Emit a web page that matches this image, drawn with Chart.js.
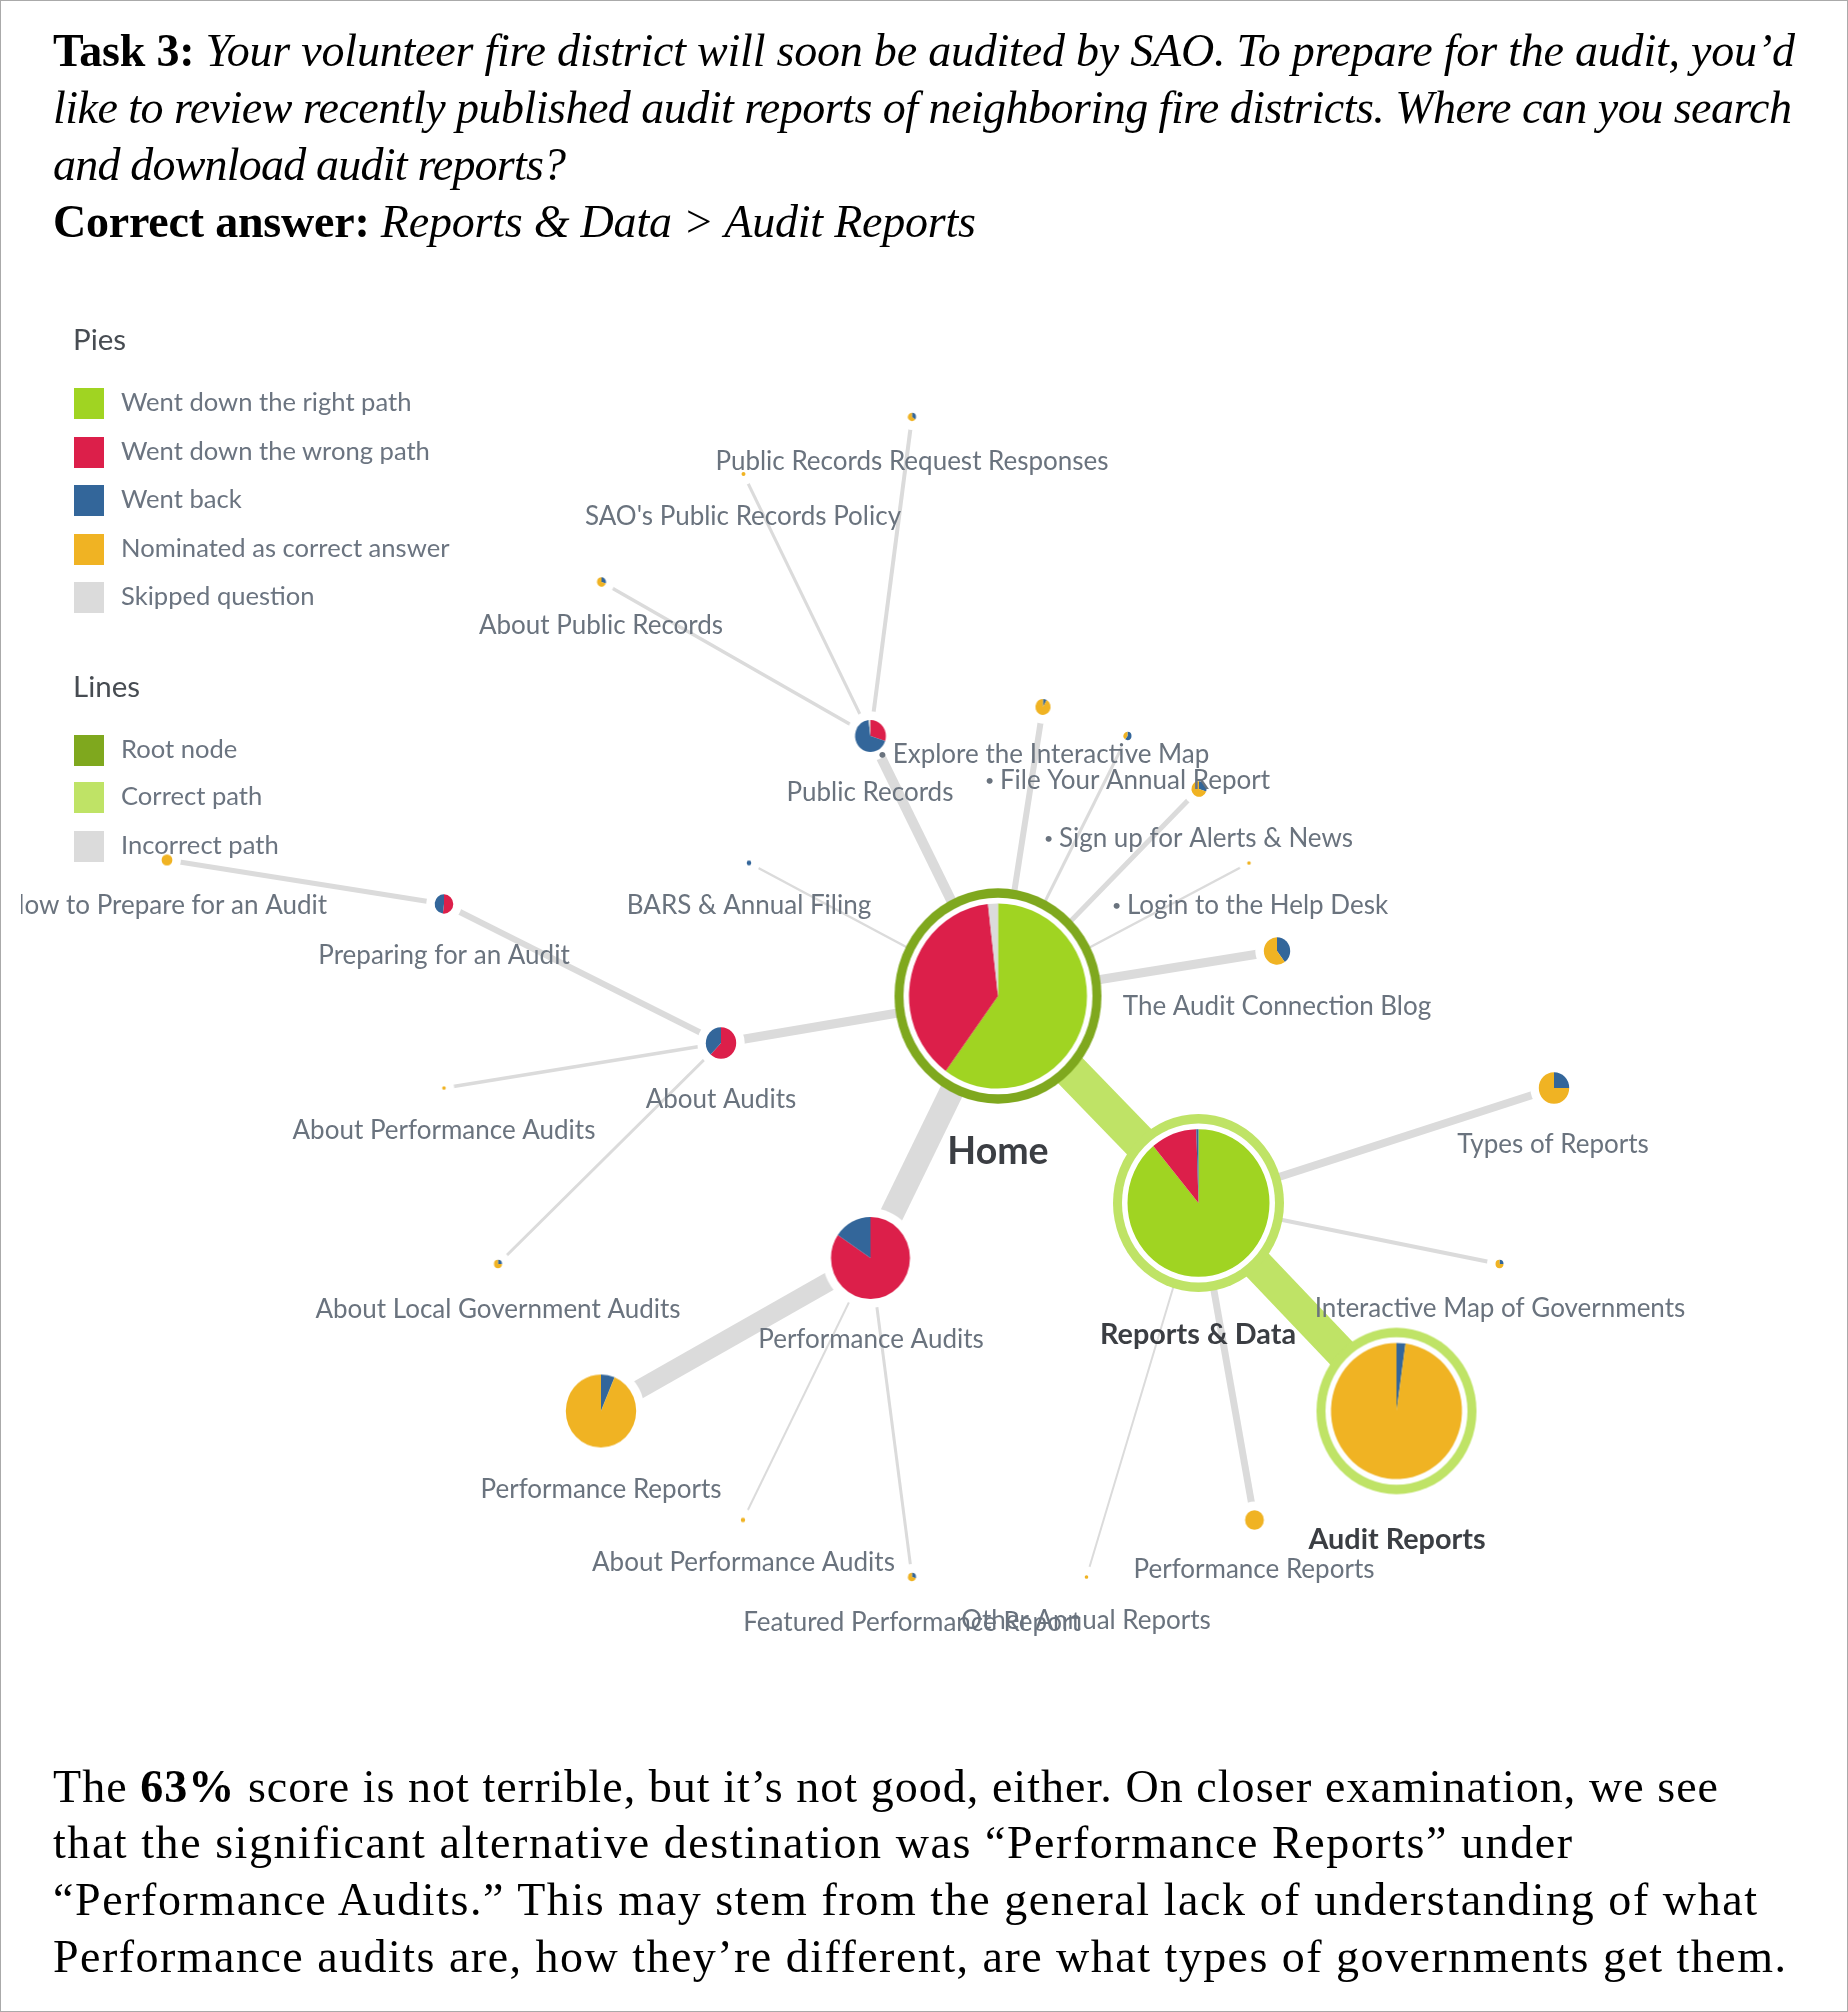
<!DOCTYPE html>
<html>
<head>
<meta charset="utf-8">
<title>Task 3 tree</title>
<script src="https://cdn.jsdelivr.net/npm/chart.js@4"></script>
<style>
  html, body { margin: 0; padding: 0; background: #fff; }
  #page { position: relative; width: 1846px; height: 2010px; border: 1px solid #aaa; overflow: hidden; }
  #chart { position: absolute; left: -1px; top: -1px; }
  .line { position: absolute; left: 52px; font: 46px/1 "Liberation Serif", serif; color: #000; white-space: nowrap; }
  .lg { position: absolute; font: 25.6px/30px Lato, sans-serif; color: #6b7480; white-space: nowrap; }
  .lgTitle { font-size: 29.5px; color: #474c52; }
  .sw { position: absolute; left: 73px; width: 30px; height: 31px; }
</style>
</head>
<body>
<div id="page">
  <canvas id="chart" width="1848" height="2012"></canvas>
</div>
<script>
// text above and below the tree: html, baseline, right edge
var textLines = [
  ['<b>Task 3:</b> <i>Your volunteer fire district will soon be audited by SAO. To prepare for the audit, you\u2019d</i>', 65, 1795],
  ['<i>like to review recently published audit reports of neighboring fire districts. Where can you search</i>', 122, 1792],
  ['<i>and download audit reports?</i>', 179, 566],
  ['<b>Correct answer:</b> <i>Reports &amp; Data &gt; Audit Reports</i>', 236, 976],
  ['The <b>63%</b> score is not terrible, but it\u2019s not good, either. On closer examination, we see', 1801, 1718],
  ['that the significant alternative destination was \u201cPerformance Reports\u201d under', 1857, 1572],
  ['\u201cPerformance Audits.\u201d This may stem from the general lack of understanding of what', 1914, 1757],
  ['Performance audits are, how they\u2019re different, are what types of governments get them.', 1971, 1786]
];

var pieLegend = ['Went down the right path', 'Went down the wrong path', 'Went back', 'Nominated as correct answer', 'Skipped question'];
var pieLegendY = [387, 436, 484, 533, 581];
var lineLegend = ['Root node', 'Correct path', 'Incorrect path'];
var lineLegendY = [734, 781, 830];

var green = '#A0D422', red = '#DC1F4A', blue = '#33669A', orange = '#F0B323', grey = '#DBDBDB';
var rootGreen = '#7FA81E', pathGreen = '#BFE366';
var pieColors = [green, red, blue, orange, grey];
var lineColors = [rootGreen, pathGreen, grey];

// tree nodes
var nodeNames = ['Home', 'Reports & Data', 'Audit Reports', 'Performance Audits', 'Performance Reports',
  'About Audits', 'Preparing for an Audit', 'How to Prepare for an Audit', 'About Performance Audits',
  'About Local Government Audits', 'Public Records', 'Public Records Request Responses',
  "SAO's Public Records Policy", 'About Public Records', 'BARS & Annual Filing',
  '\u2022 Explore the Interactive Map', '\u2022 File Your Annual Report', '\u2022 Sign up for Alerts & News',
  '\u2022 Login to the Help Desk', 'The Audit Connection Blog', 'Types of Reports',
  'Interactive Map of Governments', 'Performance Reports', 'Other Annual Reports',
  'About Performance Audits', 'Featured Performance Report'];
var nodeX = [998, 1198.5, 1396.5, 870.5, 601, 721, 444, 167, 444, 498, 870.5, 912, 743.5, 601.5, 749,
  1043, 1127.5, 1199, 1249, 1277, 1554, 1499.5, 1254.5, 1086.5, 743, 912];
var nodeY = [996, 1203, 1411, 1258, 1411, 1043, 904, 860, 1088, 1264, 736, 417, 474, 582, 863,
  707, 736, 789, 863, 951, 1088, 1264, 1520, 1577, 1520, 1577];
var nodeSize = [89, 71, 65.5, 39.5, 35.2, 15.2, 9.3, 5.4, 1.8, 4, 15.4, 4, 2, 4.5, 2.3,
  7.6, 4, 7.5, 1.8, 13.2, 15.2, 4, 9.4, 1.8, 2.2, 4];

// share of each answer per node, percent
var wentRight = [60, 89, 0, 0, 0, 0, 0, 0, 0, 0, 0, 0, 0, 0, 0, 0, 0, 0, 0, 0, 0, 0, 0, 0, 0, 0];
var wentWrong = [38.2, 10.5, 0, 84.5, 0, 62, 52, 0, 0, 0, 30, 0, 0, 0, 0, 0, 0, 0, 0, 0, 0, 0, 0, 0, 0, 0];
var wentBack = [0, 0.5, 2.2, 15.5, 6.3, 38, 48, 0, 0, 25, 68, 35, 0, 30, 100, 8, 60, 30, 0, 40, 25, 25, 0, 0, 0, 30];
var nominated = [0, 0, 97.8, 0, 93.7, 0, 0, 100, 100, 75, 0, 65, 100, 70, 0, 92, 40, 70, 100, 60, 75, 75, 100, 100, 100, 70];
var skipped = [1.8, 0, 0, 0, 0, 0, 0, 0, 0, 0, 2, 0, 0, 0, 0, 0, 0, 0, 0, 0, 0, 0, 0, 0, 0, 0];

// which ring a node wears: 0 none, 1 root, 2 correct path
var nodeRing = [1, 2, 2, 0, 0, 0, 0, 0, 0, 0, 0, 0, 0, 0, 0, 0, 0, 0, 0, 0, 0, 0, 0, 0, 0, 0];

// tree edges, by node index
var edgeFrom = [0, 1, 0, 3, 0, 0, 0, 0, 0, 0, 0, 0, 10, 10, 10, 5, 6, 5, 5, 3, 3, 1, 1, 1, 1];
var edgeTo = [1, 2, 3, 4, 5, 10, 15, 16, 17, 18, 19, 14, 11, 12, 13, 6, 7, 8, 9, 24, 25, 20, 21, 22, 23];
var edgeWeight = [35, 32, 24, 19, 9, 10, 6, 3, 5, 2.5, 9, 2.5, 4, 3, 3.5, 6, 5, 3.5, 3, 2, 3, 8, 4, 7, 2];
var edgeCorrect = [1, 1, 0, 0, 0, 0, 0, 0, 0, 0, 0, 0, 0, 0, 0, 0, 0, 0, 0, 0, 0, 0, 0, 0, 0];

// label anchors: centre x, baseline y
var labelX = [998, 1198, 1397, 871, 601, 721, 444, 166, 444, 498, 870, 912, 743, 601, 749,
  1044, 1128, 1199, 1250.5, 1277, 1553, 1500, 1254, 1086, 743.5, 912];
var labelY = [1163.5, 1344, 1549, 1348, 1498, 1108, 964, 914, 1139, 1318, 801, 470, 525, 634, 914,
  763, 789, 847, 914, 1015, 1153, 1317, 1578, 1629, 1571, 1631];

var stretch = 1.04;
var gap = 8.5;
var ringBand = 9;
var ringGap = 5.5;

function nodeMarker(i) {
  var r = nodeSize[i];
  var ring = nodeRing[i];
  var outer = ring ? r + ringGap + ringBand : r + gap;
  var cv = document.createElement('canvas');
  cv.width = Math.ceil(outer * 2) + 4;
  cv.height = Math.ceil(outer * 2 * stretch) + 4;
  var c = cv.getContext('2d');
  c.translate(cv.width / 2, cv.height / 2);
  c.scale(1, stretch);
  c.beginPath();
  c.arc(0, 0, outer, 0, Math.PI * 2);
  c.fillStyle = ring ? lineColors[ring - 1] : '#fff';
  c.fill();
  if (ring) {
    c.beginPath();
    c.arc(0, 0, r + ringGap, 0, Math.PI * 2);
    c.fillStyle = '#fff';
    c.fill();
  }
  var parts = [wentRight[i], wentWrong[i], wentBack[i], nominated[i], skipped[i]];
  var a = -Math.PI / 2;
  parts.forEach(function (p, k) {
    if (!p) return;
    var b = a + p / 100 * Math.PI * 2;
    c.beginPath();
    c.moveTo(0, 0);
    c.arc(0, 0, r, a, b);
    c.closePath();
    c.fillStyle = pieColors[k];
    c.fill();
    a = b;
  });
  return cv;
}

// chart.js paints the first dataset last, so the nodes go first to sit over the edges
var datasets = [{
  type: 'scatter',
  data: nodeNames.map(function (n, i) { return { x: nodeX[i], y: nodeY[i] }; }),
  pointStyle: nodeNames.map(function (n, i) { return nodeMarker(i); }),
  pointRadius: 3,
  showLine: false
}];
edgeFrom.forEach(function (from, i) {
  var to = edgeTo[i];
  datasets.push({
    type: 'scatter',
    showLine: true,
    data: [{ x: nodeX[from], y: nodeY[from] }, { x: nodeX[to], y: nodeY[to] }],
    borderColor: edgeCorrect[i] ? pathGreen : grey,
    borderWidth: edgeWeight[i],
    pointRadius: 0,
    tension: 0
  });
});

var nodeLabels = {
  id: 'nodeLabels',
  afterDatasetsDraw: function (chart) {
    var ctx = chart.ctx;
    var xs = chart.scales.x, ys = chart.scales.y;
    ctx.save();
    ctx.beginPath();
    ctx.rect(21, 0, 1827, 2012);
    ctx.clip();
    ctx.textBaseline = 'alphabetic';
    nodeNames.forEach(function (name, i) {
      var main = nodeRing[i] > 0;
      var font = i === 0 ? 'bold 37.5px Lato, sans-serif' : (main ? 'bold 28.8px Lato, sans-serif' : '26px Lato, sans-serif');
      var x = xs.getPixelForValue(labelX[i]);
      var y = ys.getPixelForValue(labelY[i]);
      ctx.fillStyle = main ? '#3b3e43' : '#6a737e';
      ctx.font = font;
      if (name.charAt(0) === '\u2022') {
        // bullet is much smaller than the text in the original
        var rest = name.slice(2);
        var w = ctx.measureText(rest).width;
        ctx.textAlign = 'left';
        ctx.fillText(rest, x - w / 2 + 7, y);
        ctx.font = '16px Lato, sans-serif';
        ctx.fillText('\u2022', x - w / 2 - 8, y - 3);
      } else {
        ctx.textAlign = 'center';
        ctx.fillText(name, x, y);
      }
    });
    ctx.restore();
  }
};

new Chart(document.getElementById('chart'), {
  type: 'scatter',
  data: { datasets: datasets },
  plugins: [nodeLabels],
  options: {
    responsive: false,
    animation: false,
    events: [],
    layout: { padding: 0, autoPadding: false },
    plugins: { legend: { display: false }, tooltip: { enabled: false } },
    scales: {
      x: { type: 'linear', min: 0, max: 1848, display: false },
      y: { type: 'linear', min: 0, max: 2012, reverse: true, display: false }
    }
  }
});

var page = document.getElementById('page');

function addDiv(cls, css, html) {
  var d = document.createElement('div');
  d.className = cls;
  d.style.cssText = css;
  if (html) d.innerHTML = html;
  page.appendChild(d);
  return d;
}

function escapeHtml(text) {
  var div = document.createElement('div');
  div.textContent = text;
  return div.innerHTML;
}

addDiv('lg lgTitle', 'left:72px;top:323px', 'Pies');
addDiv('lg lgTitle', 'left:72px;top:670px', 'Lines');
pieLegend.forEach(function (t, i) {
  addDiv('sw', 'top:' + pieLegendY[i] + 'px;background:' + pieColors[i]);
  addDiv('lg', 'left:120px;top:' + (pieLegendY[i] - 2) + 'px', escapeHtml(t));
});
lineLegend.forEach(function (t, i) {
  addDiv('sw', 'top:' + lineLegendY[i] + 'px;background:' + lineColors[i]);
  addDiv('lg', 'left:120px;top:' + (lineLegendY[i] - 2) + 'px', escapeHtml(t));
});

// Liberation Serif is narrower than the original face, stretch each line to its width
textLines.forEach(function (l) {
  var d = addDiv('line', 'top:' + (l[1] - 38) + 'px', l[0]);
  var w = d.getBoundingClientRect().width;
  var chars = d.textContent.length;
  d.style.letterSpacing = ((l[2] - 53 - w) / (chars - 1)) + 'px';
});
</script>
</body>
</html>
